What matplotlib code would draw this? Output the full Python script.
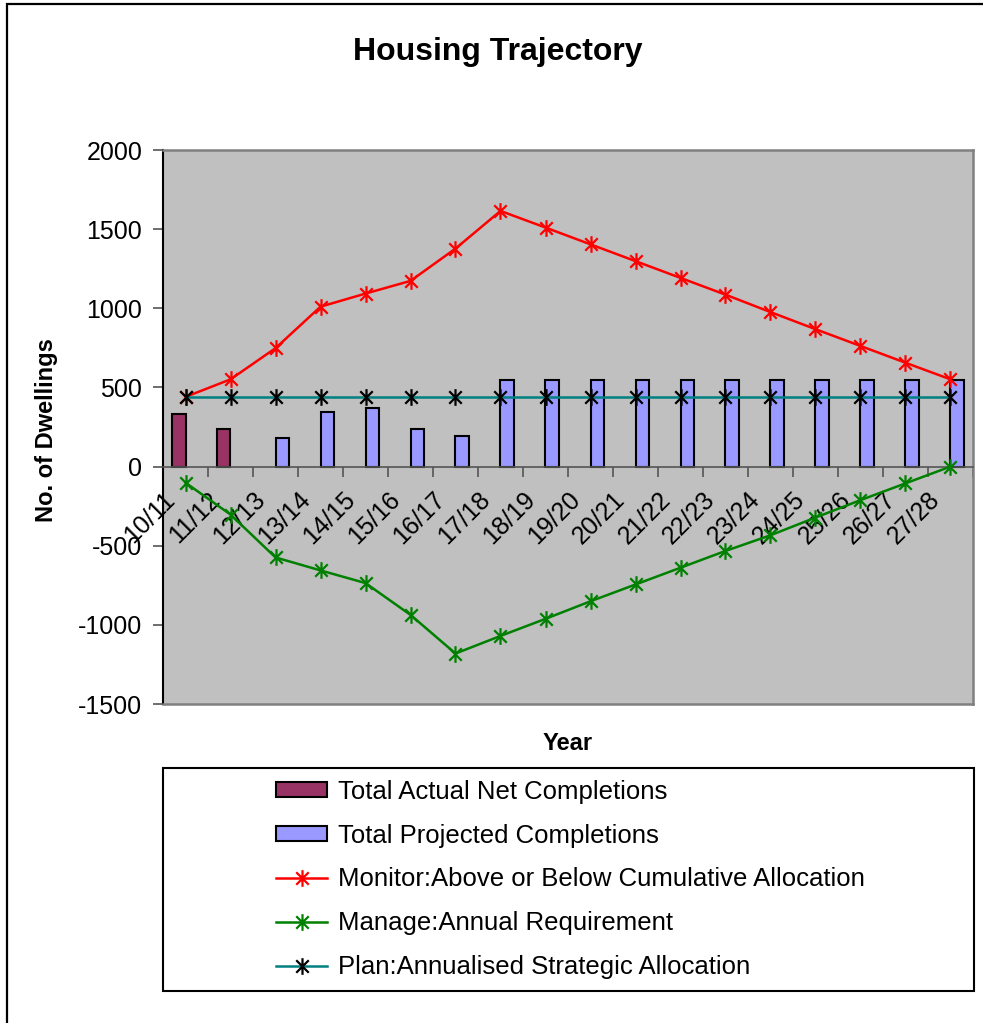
import numpy as np
import matplotlib.pyplot as plt
from matplotlib.path import Path
from matplotlib.patches import Rectangle
from matplotlib.lines import Line2D
from matplotlib.transforms import ScaledTranslation

plt.rcParams['font.family'] = ['Liberation Sans', 'DejaVu Sans']
plt.rcParams['axes.unicode_minus'] = False

# ---------------- data ----------------
years = ["10/11", "11/12", "12/13", "13/14", "14/15", "15/16", "16/17", "17/18", "18/19",
         "19/20", "20/21", "21/22", "22/23", "23/24", "24/25", "25/26", "26/27", "27/28"]
nan = np.nan
actual = [332, 237, nan, nan, nan, nan, nan, nan, nan, nan, nan, nan, nan, nan, nan, nan, nan, nan]
projected = [nan, nan, 180, 345, 368, 237, 193, 546, 546, 546, 546, 546, 546, 546, 546, 546, 546, 546]
monitor = [440, 551, 748, 1010, 1093, 1173, 1377, 1615, 1510, 1404, 1298, 1192, 1086, 976, 868, 762, 656, 551]
manage = [-102, -303, -574, -656, -736, -937, -1181, -1070, -962, -851, -745, -639, -533, -434, -322, -212, -106, 0]
plan = [440] * 18

labels = ["Total Actual Net Completions", "Total Projected Completions",
          "Monitor:Above or Below Cumulative Allocation", "Manage:Annual Requirement",
          "Plan:Annualised Strategic Allocation"]

# Excel style star marker: an X with a vertical bar
star = Path([(0, -1), (0, 1), (-0.75, -0.75), (0.75, 0.75), (-0.75, 0.75), (0.75, -0.75)],
            [Path.MOVETO, Path.LINETO, Path.MOVETO, Path.LINETO, Path.MOVETO, Path.LINETO])

W, H = 983, 1023
fig = plt.figure(figsize=(W / 100, H / 100), dpi=100)
ax = fig.add_axes([163 / W, 1 - 704 / H, (973 - 163) / W, (704 - 150) / H])
ax.set_facecolor("#C0C0C0")

x = np.arange(len(years))
bw = 0.31
ax.bar(x - bw / 2, actual, width=bw, color="#993366", edgecolor="black", linewidth=1.5, zorder=2)
ax.bar(x + bw / 2, projected, width=bw, color="#9999FF", edgecolor="black", linewidth=1.5, zorder=2)

ax.plot(x, monitor, color="#FF0000", lw=1.8, marker=star, ms=12, mec="#FF0000", mew=1.6, zorder=3)
ax.plot(x, manage, color="#008000", lw=1.8, marker=star, ms=12, mec="#008000", mew=1.6, zorder=3)
ax.plot(x, plan, color="#008080", lw=1.8, marker=star, ms=12, mec="black", mew=1.6, zorder=4)

ax.set_xlim(-0.5, len(years) - 0.5)
ax.set_ylim(-1500, 2000)
ax.set_yticks(np.arange(-1500, 2001, 500))
ax.tick_params(axis="y", labelsize=18, length=7, width=1.2, color="#555555", pad=8)

# category axis crosses at zero
ax.spines["bottom"].set_position(("data", 0))
ax.spines["bottom"].set_color("#555555")
ax.spines["bottom"].set_linewidth(1.2)
ax.spines["left"].set_color("black")
ax.spines["left"].set_linewidth(1.5)
for s in ["top", "right"]:
    ax.spines[s].set_color("#808080")
    ax.spines[s].set_linewidth(1.8)
ax.set_xticks(x)
ax.set_xticklabels(years, rotation=45, ha="right", va="center", rotation_mode="anchor", fontsize=18)
ax.set_xticks(np.arange(-0.5, len(years), 1), minor=True)
ax.tick_params(axis="x", which="major", length=0, pad=21)
ax.tick_params(axis="x", which="minor", length=7, width=1.2, color="#555555")
for lab in ax.get_xticklabels():
    lab.set_transform(lab.get_transform() + ScaledTranslation(-0.14, 0, fig.dpi_scale_trans))

# bottom frame line of plot area
ax.axhline(-1500, color="#808080", lw=1.8, zorder=5, clip_on=False)

fig.text(498 / W, 1 - 52 / H, "Housing Trajectory", ha="center", va="center",
         fontsize=23, fontweight="bold")
fig.text(47 / W, 1 - 430 / H, "No. of Dwellings", ha="center", va="center",
         rotation=90, fontsize=17, fontweight="bold")
fig.text(568 / W, 1 - 743 / H, "Year", ha="center", va="center",
         fontsize=17, fontweight="bold")

# outer chart border (only left and top visible in the crop)
fig.add_artist(Rectangle((7 / W, -0.1), 1.2, 1 - 4 / H + 0.1, transform=fig.transFigure,
                         fill=False, edgecolor="black", lw=1.6))

# legend box
fig.add_artist(Rectangle((163 / W, 1 - 991 / H), (974 - 163) / W, (991 - 768) / H,
                         transform=fig.transFigure, facecolor="white", edgecolor="black", lw=1.5))
handles = [
    Rectangle((0, 0), 1, 1, facecolor="#993366", edgecolor="black", lw=1.5),
    Rectangle((0, 0), 1, 1, facecolor="#9999FF", edgecolor="black", lw=1.5),
    Line2D([], [], color="#FF0000", lw=1.8, marker=star, ms=12, mec="#FF0000", mew=1.6),
    Line2D([], [], color="#008000", lw=1.8, marker=star, ms=12, mec="#008000", mew=1.6),
    Line2D([], [], color="#008080", lw=1.8, marker=star, ms=12, mec="black", mew=1.6),
]
leg = fig.legend(handles, labels, loc="upper left", bbox_to_anchor=(263 / W, 1 - 767 / H),
                 frameon=False, fontsize=18.5, handlelength=2.0, handleheight=0.55,
                 handletextpad=0.42, labelspacing=0.77, borderpad=0)

fig.savefig("out.png", dpi=100)
